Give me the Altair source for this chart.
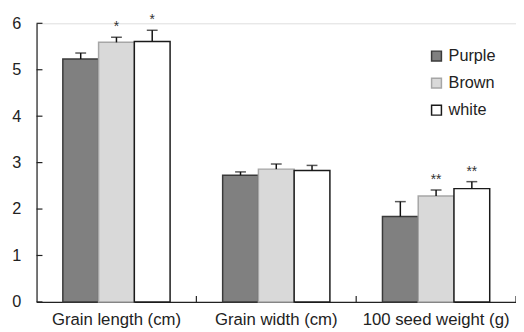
import altair as alt
import pandas as pd

groups = ["Grain length (cm)", "Grain width (cm)", "100 seed weight (g)"]
types = ["Purple", "Brown", "white"]
purple = [5.23, 2.73, 1.84]
purple_err = [0.13, 0.07, 0.32]
brown = [5.59, 2.86, 2.28]
brown_err = [0.11, 0.11, 0.13]
white = [5.61, 2.83, 2.44]
white_err = [0.24, 0.11, 0.15]
brown_sig = ["*", "", "**"]
white_sig = ["*", "", "**"]
y_ticks = [0, 1, 2, 3, 4, 5, 6]

fills = ["#808080", "#d9d9d9", "#ffffff"]
strokes = ["#3a3a3a", "#a6a6a6", "#1a1a1a"]

rows = []
for i, g in enumerate(groups):
    rows.append(dict(group=g, type="Purple", value=purple[i], err=purple_err[i], sig=""))
    rows.append(dict(group=g, type="Brown", value=brown[i], err=brown_err[i], sig=brown_sig[i]))
    rows.append(dict(group=g, type="white", value=white[i], err=white_err[i], sig=white_sig[i]))
df = pd.DataFrame(rows)
df["top"] = df["value"] + df["err"]

FONT = "Liberation Sans"
FS = 16.5

x_enc = alt.X("group:N", sort=groups, title=None,
              scale=alt.Scale(paddingInner=0, paddingOuter=0),
              axis=alt.Axis(labelAngle=0, labelFontSize=17, labelFont=FONT, labelColor="#222",
                            ticks=False, labelPadding=10, domainColor="#222", domainWidth=1.2))
xoff = alt.XOffset("type:N", sort=types, scale=alt.Scale(paddingOuter=0.735, paddingInner=0))
y_scale = alt.Scale(domain=[0, 6], nice=False, zero=True)

leg = alt.Legend(title=None, orient="none", legendX=398, legendY=25,
                 symbolType="square", symbolSize=100, symbolStrokeWidth=1.5,
                 labelFontSize=FS, labelFont=FONT, labelColor="#222",
                 rowPadding=10.5, symbolOffset=0, labelOffset=4)

base = alt.Chart(df)

bars = base.mark_bar(strokeWidth=1.5).encode(
    x=x_enc,
    xOffset=xoff,
    y=alt.Y("value:Q", scale=y_scale, title=None,
            axis=alt.Axis(values=y_ticks, ticks=False, grid=False, labelFontSize=FS,
                          labelFont=FONT, labelColor="#222", labelPadding=16,
                          domainColor="#222", domainWidth=1.2)),
    fill=alt.Fill("type:N", sort=types, scale=alt.Scale(domain=types, range=fills), legend=leg),
    stroke=alt.Stroke("type:N", sort=types, scale=alt.Scale(domain=types, range=strokes), legend=leg),
)

err = base.mark_rule(color="#111", strokeWidth=1.5).encode(
    x=alt.X("group:N", sort=groups),
    xOffset=xoff,
    y=alt.Y("value:Q", scale=y_scale),
    y2="top:Q",
)
caps = base.mark_tick(color="#111", thickness=1.5, size=11, orient="horizontal").encode(
    x=alt.X("group:N", sort=groups),
    xOffset=xoff,
    y=alt.Y("top:Q", scale=y_scale),
)
stars = base.mark_text(fontSize=14, font=FONT, color="#333", dy=-10).encode(
    x=alt.X("group:N", sort=groups),
    xOffset=xoff,
    y=alt.Y("top:Q", scale=y_scale),
    text="sig:N",
)

tick_df = pd.DataFrame({"t": y_ticks})
yticks = alt.Chart(tick_df).mark_rule(color="#222", strokeWidth=1.2).encode(
    y=alt.Y("t:Q", scale=y_scale),
    x=alt.value(0),
    x2=alt.value(6),
)
grp_df = pd.DataFrame({"group": groups})
xticks = alt.Chart(grp_df).mark_rule(color="#222", strokeWidth=1.2).encode(
    x=alt.X("group:N", sort=groups, bandPosition=1),
    y=alt.value(283),
    y2=alt.value(277),
)

chart = alt.layer(bars, err, caps, stars, yticks, xticks).properties(
    width=487, height=283,
    autosize=alt.AutoSizeParams(type="none"),
    padding={"left": 29, "top": 13, "right": 0, "bottom": 28},
).configure_view(stroke=None).configure(background="white")

chart.save("out.html", embed_options={"renderer": "svg", "actions": False})
